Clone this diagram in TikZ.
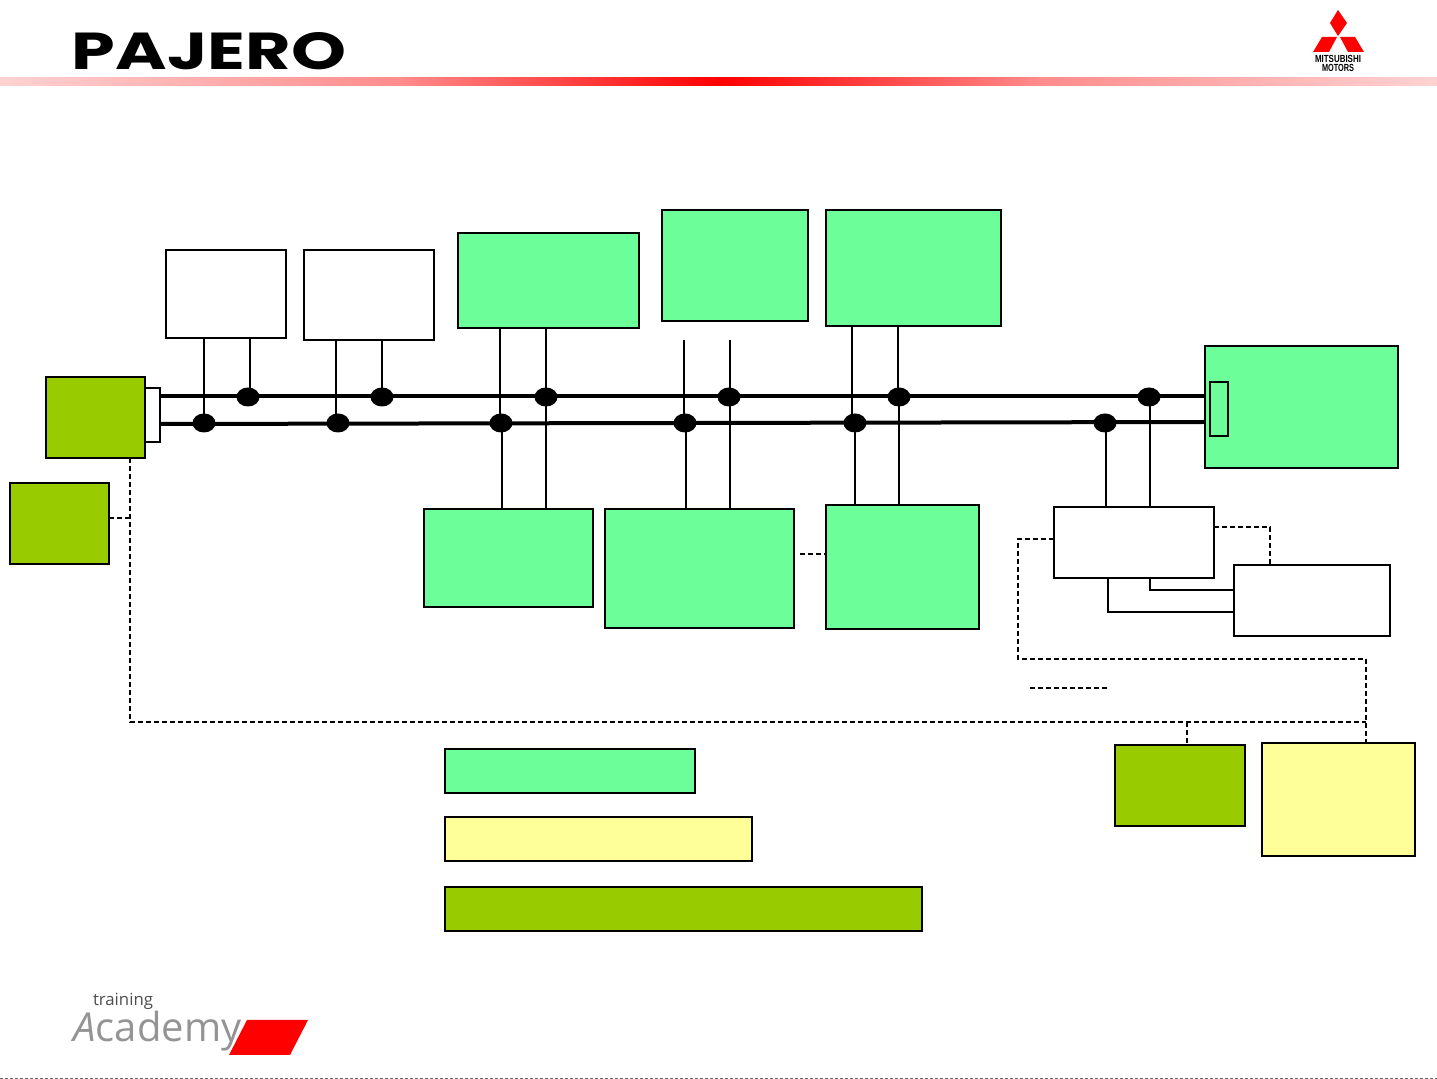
\documentclass[tikz,border=0pt]{standalone}
\usepackage{fontspec}
\setmainfont{Liberation Sans}
\newfontfamily\logofont{Poppins}
\newfontfamily\acadfont{Open Sans}
\usetikzlibrary{shapes.geometric,calc}
\definecolor{mgreen}{HTML}{6CFF99}
\definecolor{olive}{HTML}{99CC00}
\definecolor{pyellow}{HTML}{FFFF99}
\definecolor{pinkend}{HTML}{FFD2D2}
\definecolor{pinkmid}{HTML}{FF8C8C}
\tikzset{
  boxbase/.style={draw=black,line width=1pt,inner sep=0pt,outer sep=0pt,anchor=north west},
  gbox/.style={boxbase,fill=mgreen},
  obox/.style={boxbase,fill=olive},
  ybox/.style={boxbase,fill=pyellow},
  wbox/.style={boxbase,fill=white},
  bus/.style={line width=2pt,black},
  tap/.style={line width=1pt,black},
  thinwire/.style={line width=0.8pt,black},
  dashline/.style={line width=0.75pt,black,dash pattern=on 2.4pt off 1.6pt},
  busdot/.style={ellipse,fill=black,inner sep=0pt,outer sep=0pt,minimum width=11.5pt,minimum height=9.5pt},
  mred/.style={fill=red,draw=none}
}
\newcommand{\bx}[6]{%
  \pgfmathsetmacro{\bw}{(#4-#2)*0.5}%
  \pgfmathsetmacro{\bh}{(#5-#3)*0.5}%
  \node[#6,minimum width=\bw pt,minimum height=\bh pt] (#1) at (#2,#3) {};%
}
\begin{document}
\begin{tikzpicture}[x=0.5pt,y=-0.5pt]
\useasboundingbox (0,0) rectangle (1437,1079);
% header band
\shade[left color=pinkend,right color=pinkmid,draw=none] (0,78) rectangle (400,86);
\shade[left color=pinkmid,right color=red,draw=none] (399.5,78) rectangle (720,86);
\shade[left color=red,right color=pinkmid,draw=none] (719.5,78) rectangle (1040,86);
\shade[left color=pinkmid,right color=pinkend,draw=none] (1039.5,78) rectangle (1437,86);
\node[inner sep=0pt,anchor=center] (brand) at (209,51.5) {\resizebox{137pt}{18.5pt}{\logofont\bfseries PAJERO}};
% Mitsubishi logo
\fill[mred] (1338,10) -- (1347,23) -- (1338,36) -- (1330,23) -- cycle;
\fill[mred] (1322,37) -- (1337,37) -- (1329,52) -- (1313,52) -- cycle;
\fill[mred] (1340,37) -- (1355,37) -- (1364,52) -- (1348,52) -- cycle;
\node[inner sep=0pt] (mm1) at (1338,58.5) {\resizebox{23pt}{3.6pt}{\bfseries MITSUBISHI}};
\node[inner sep=0pt] (mm2) at (1338,68) {\resizebox{16pt}{3.6pt}{\bfseries MOTORS}};
% academy logo
\node[inner sep=0pt,text=black!70] (acad1) at (123,1001) {\resizebox{30pt}{!}{\acadfont training}};
\fill[mred] (247,1020) -- (308,1020) -- (290,1055) -- (229,1055) -- cycle;
\node[inner sep=0pt,text=black!42,anchor=base west] (acad2) at (73,1042) {\resizebox{84pt}{!}{\acadfont\textit{A}cademy}};
% boxes
\bx{wa}{166}{250}{286}{338}{wbox}
\bx{wb}{304}{250}{434}{340}{wbox}
\bx{ga}{458}{233}{639}{328}{gbox}
\bx{gb}{662}{210}{808}{321}{gbox}
\bx{gc}{826}{210}{1001}{326}{gbox}
\bx{gr}{1205}{346}{1398}{468}{gbox}
\bx{gri}{1210}{382}{1228}{436}{gbox}
\bx{conn}{145}{388}{160}{442}{wbox}
\bx{oa}{46}{377}{145}{458}{obox}
\bx{ob}{10}{483}{109}{564}{obox}
\bx{gd}{424}{509}{593}{607}{gbox}
\bx{ge}{605}{509}{794}{628}{gbox}
\bx{gf}{826}{505}{979}{629}{gbox}
\bx{wc}{1054}{507}{1214}{578}{wbox}
\bx{wd}{1234}{565}{1390}{636}{wbox}
\bx{oc}{1115}{745}{1245}{826}{obox}
\bx{yb}{1262}{743}{1415}{856}{ybox}
\bx{lg}{445}{749}{695}{793}{gbox}
\bx{ly}{445}{817}{752}{861}{ybox}
\bx{lo}{445}{887}{922}{931}{obox}
% bus dots
\foreach \n/\x in {t1/248,t2/382,t3/546,t4/729,t5/899,t6/1149}{\node[busdot] (\n) at (\x,397) {};}
\foreach \n/\x in {b1/204,b2/338,b3/501,b4/685,b5/855,b6/1105}{\node[busdot] (\n) at (\x,423) {};}
% bus
\coordinate (bsa) at ($(conn.east |- t1)+(0,0.5pt)$);
\draw[bus] (bsa) -- (bsa -| gr.west);
\coordinate (bsb) at ($(conn.east |- b1)+(0,-0.5pt)$);
\coordinate (bsc) at ($(gr.west |- b1)+(0,0.5pt)$);
\draw[bus] (bsb) -- (bsc);
% upper taps
\coordinate (ge1) at (684,340);
\coordinate (ge2) at (730,340);
\draw[tap] (b1.center) -- (b1.center |- wa.south);
\draw[tap] ([xshift=1pt]t1.center) -- ([xshift=1pt]t1.center |- wa.south);
\draw[tap] ([xshift=-1pt]b2.center) -- ([xshift=-1pt]b2.center |- wb.south);
\draw[tap] (t2.center) -- (t2.center |- wb.south);
\draw[tap] ([xshift=-0.5pt]b3.center) -- ([xshift=-0.5pt]b3.center |- ga.south);
\draw[tap] (t3.center) -- (t3.center |- ga.south);
\draw[tap] ([xshift=-0.5pt]b4.center) -- (ge1);
\draw[tap] ([xshift=0.5pt]t4.center) -- (ge2);
\draw[tap] ([xshift=-1.5pt]b5.center) -- ([xshift=-1.5pt]b5.center |- gc.south);
\draw[tap] ([xshift=-0.5pt]t5.center) -- ([xshift=-0.5pt]t5.center |- gc.south);
% lower taps
\draw[tap] ([xshift=0.5pt]b3.center) -- ([xshift=0.5pt]b3.center |- gd.north);
\draw[tap] (t3.center) -- (t3.center |- gd.north);
\draw[tap] ([xshift=0.5pt]b4.center) -- ([xshift=0.5pt]b4.center |- ge.north);
\draw[tap] ([xshift=0.5pt]t4.center) -- ([xshift=0.5pt]t4.center |- ge.north);
\draw[tap] (b5.center) -- (b5.center |- gf.north);
\draw[tap] (t5.center) -- (t5.center |- gf.north);
\draw[tap] ([xshift=0.5pt]b6.center) -- ([xshift=0.5pt]b6.center |- wc.north);
\draw[tap] ([xshift=0.5pt]t6.center) -- ([xshift=0.5pt]t6.center |- wc.north);
% solid links between white boxes
\coordinate (la) at (1150,590);
\coordinate (lb) at (1108,612);
\draw[tap] (la |- wc.south) -- (la) -- (la -| wd.west);
\draw[thinwire] (lb |- wc.south) -- (lb) -- (lb -| wd.west);
% dashed links
\coordinate (da) at (130,722);
\coordinate (db) at (1366,722);
\coordinate (dc) at (1187,722);
\coordinate (dd) at (1018,539);
\coordinate (de) at (1018,659);
\coordinate (df) at (1366,659);
\coordinate (dg) at (1270,527);
\coordinate (dh) at (130,518);
\coordinate (di) at (800,554);
\coordinate (dj) at (1030,688);
\coordinate (dk) at (1109,688);
\draw[dashline] (da |- oa.south) -- (da) -- (db);
\draw[dashline] (ob.east |- dh) -- (dh);
\draw[dashline] (dc) -- (dc |- oc.north);
\draw[dashline] (df) -- (df |- yb.north);
\draw[dashline] (wc.west |- dd) -- (dd) -- (de) -- (df);
\draw[dashline] (wc.east |- dg) -- (dg) -- (dg |- wd.north);
\draw[dashline] (di) -- (di -| gf.west);
\draw[dashline] (dj) -- (dk);
% bottom noise line
\coordinate (na) at (0,1078.3);
\coordinate (nb) at (1437,1078.3);
\draw[line width=0.6pt,black!60,dash pattern=on 1.5pt off 1pt] (na) -- (nb);
\end{tikzpicture}
\end{document}
